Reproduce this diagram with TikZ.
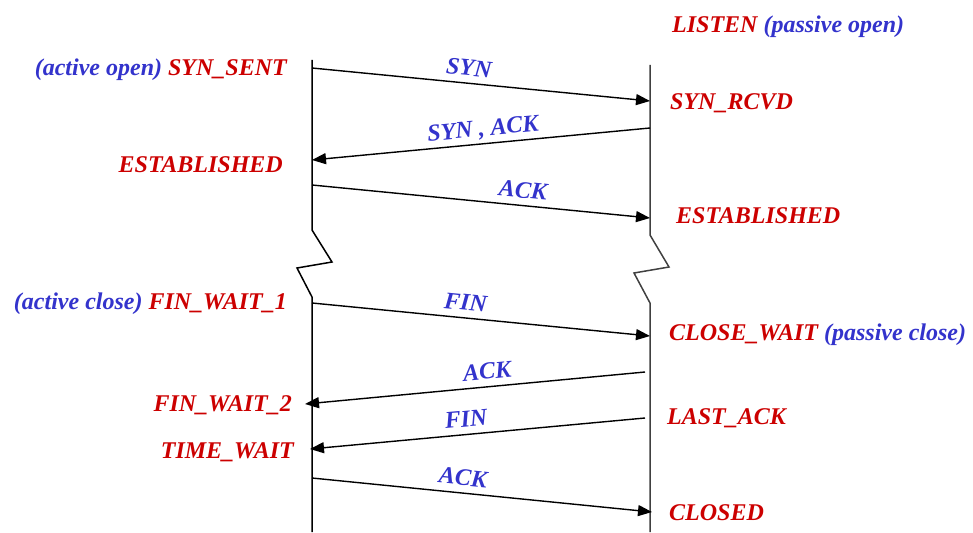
\documentclass[tikz,border=0pt]{standalone}
\usepackage{fontspec}
\setmainfont{Liberation Serif}
\usetikzlibrary{arrows.meta}
\definecolor{statered}{RGB}{204,0,0}
\definecolor{msgblue}{RGB}{51,51,204}
\tikzset{
state/.style={text=statered,font=\fontsize{24}{28}\selectfont\bfseries\itshape,inner sep=0pt,text height=16pt,text depth=0pt},
msg/.style={text=msgblue,font=\fontsize{24}{28}\selectfont\bfseries\itshape,inner sep=7pt,text height=16pt,text depth=0pt,sloped,above},
seg/.style={-{Triangle[length=14pt,width=11pt]},line width=1.4pt}
}
\begin{document}
\begin{tikzpicture}[x=1pt,y=-1pt]
\useasboundingbox (0,0) rectangle (973,532);
\draw[line width=1.5pt] (312,60) -- (312,230) -- (332,262) -- (297,268) -- (312,297) -- (312,532);
\draw[line width=1.5pt,color=darkgray] (650,65) -- (650,235) -- (669,267) -- (634,273) -- (650,303) -- (650,532);
\coordinate (a1) at (312,68);
\coordinate (b1) at (650,101);
\coordinate (b2) at (650,128);
\coordinate (a2) at (312,160);
\coordinate (a3) at (312,185);
\coordinate (b3) at (650,218);
\coordinate (a4) at (312,303);
\coordinate (b4) at (650,336);
\coordinate (b5) at (645,372);
\coordinate (a5) at (305,404);
\coordinate (b6) at (645,418);
\coordinate (a6) at (310,449);
\coordinate (a7) at (312,478);
\coordinate (b7) at (652,512);
\draw[seg] (a1) -- node[msg,pos=.46] (syn) {SYN} (b1);
\draw[seg] (b2) -- node[msg,pos=.49] (synack) {SYN , ACK} (a2);
\draw[seg] (a3) -- node[msg,pos=.62] (ack1) {ACK} (b3);
\draw[seg] (a4) -- node[msg,pos=.45] (fin1) {FIN} (b4);
\draw[seg] (b5) -- node[msg,pos=.46] (ack2) {ACK} (a5);
\draw[seg] (b6) -- node[msg,pos=.53] (fin2) {FIN} (a6);
\draw[seg] (a7) -- node[msg,pos=.44] (ack3) {ACK} (b7);
\node[state,anchor=west] (listen) at (672,25) {LISTEN {\color{msgblue}(passive open)}};
\node[state,anchor=east] (synsent) at (287,68) {{\color{msgblue}(active open)} SYN\_SENT};
\node[state,anchor=west] (synrcvd) at (670,102) {SYN\_RCVD};
\node[state,anchor=east] (estab1) at (283,164) {ESTABLISHED};
\node[state,anchor=west] (estab2) at (676,215) {ESTABLISHED};
\node[state,anchor=east] (finwait1) at (287,301) {{\color{msgblue}(active close)} FIN\_WAIT\_1};
\node[state,anchor=west] (closewait) at (669,332) {CLOSE\_WAIT {\color{msgblue}(passive close)}};
\node[state,anchor=east] (finwait2) at (292,403) {FIN\_WAIT\_2};
\node[state,anchor=west] (lastack) at (667,416) {LAST\_ACK};
\node[state,anchor=east] (timewait) at (294,450) {TIME\_WAIT};
\node[state,anchor=west] (closed) at (669,512) {CLOSED};
\end{tikzpicture}
\end{document}
